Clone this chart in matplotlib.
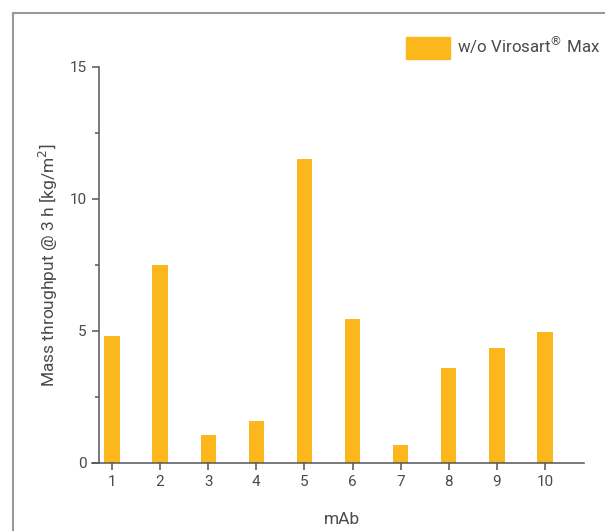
import numpy as np
import matplotlib.pyplot as plt
from matplotlib.patches import Rectangle, Patch

plt.rcParams['font.family'] = ['Roboto', 'DejaVu Sans']

mabs = [1, 2, 3, 4, 5, 6, 7, 8, 9, 10]
throughput = [4.8, 7.5, 1.05, 1.6, 11.5, 5.45, 0.7, 3.6, 4.35, 4.95]
series_name = 'w/o Virosart$^{®}$ Max'

bar_col = '#FCB71D'
ax_col = '#555555'
txt_col = '#4a4a4a'

fig = plt.figure(figsize=(6.05, 5.31), dpi=100)
ax = fig.add_axes([99 / 605, 68 / 531, 485 / 605, 396 / 531])

ax.bar(mabs, throughput, width=0.32, color=bar_col, edgecolor='none')

ax.set_xlim(0.73, 10.81)
ax.set_ylim(0, 15)
ax.set_xticks(mabs)
ax.set_yticks([0, 5, 10, 15])
ax.set_yticks([2.5, 7.5, 12.5], minor=True)

for s in ['top', 'right']:
    ax.spines[s].set_visible(False)
for s in ['left', 'bottom']:
    ax.spines[s].set_color(ax_col)
    ax.spines[s].set_linewidth(1.1)
ax.spines['bottom'].set_bounds(0.58, 10.81)

ax.tick_params(axis='both', which='major', length=5, width=1.1, color=ax_col,
               labelcolor=txt_col, labelsize=11, pad=4)
ax.tick_params(axis='y', which='minor', length=3, width=1.1, color=ax_col)

ax.set_xlabel('mAb', fontsize=12.5, color=txt_col, labelpad=16)
ax.set_ylabel('Mass throughput @ 3 h [kg/m$^{2}$]', fontsize=12.5,
              color=txt_col)
ax.yaxis.set_label_coords(-0.08, 0.5)

fig.legend(handles=[Patch(color=bar_col, label=series_name)],
           loc='upper right', bbox_to_anchor=(1.012, 0.957), frameon=False,
           fontsize=12.2, labelcolor=txt_col, handlelength=2.6,
           handleheight=1.55, handletextpad=0.4, borderpad=0.2)

# grey frame around the panel, cut off at right and bottom
fig.patches.append(Rectangle((13 / 605, -0.1), 1.2, (531 - 13) / 531 + 0.1,
                             transform=fig.transFigure, fill=False,
                             edgecolor='#999999', linewidth=1.5))

fig.savefig('out.png', dpi=100)
